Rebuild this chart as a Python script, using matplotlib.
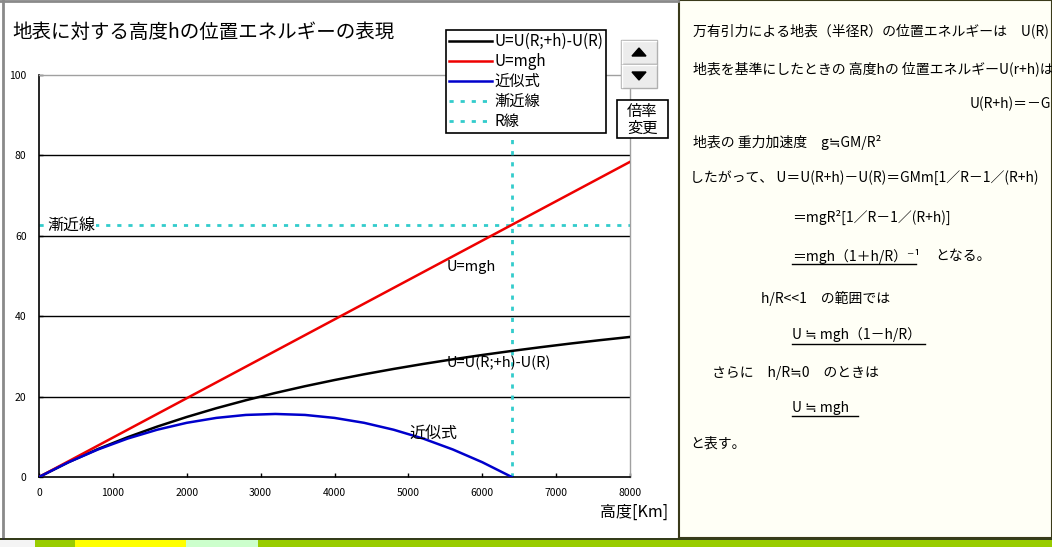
import matplotlib
matplotlib.use("Agg")
import matplotlib.pyplot as plt
from matplotlib.patches import Rectangle, Polygon
from matplotlib.lines import Line2D

plt.rcParams['font.family'] = ['Noto Sans CJK JP', 'DejaVu Sans']

# ---- data ----
height_km = [0, 400, 800, 1200, 1600, 2000, 2400, 2800, 3200, 3600, 4000,
             4400, 4800, 5200, 5600, 6000, 6400, 6800, 7200, 7600, 8000]
u_exact = [0, 3.69, 6.97, 9.90, 12.54, 14.93, 17.11, 19.09, 20.91, 22.58, 24.12,
           25.55, 26.88, 28.12, 29.27, 30.35, 31.36, 32.31, 33.21, 34.05, 34.84]
u_mgh = [0, 3.92, 7.84, 11.76, 15.68, 19.60, 23.52, 27.44, 31.36, 35.28, 39.20,
         43.12, 47.04, 50.96, 54.88, 58.80, 62.72, 66.64, 70.56, 74.48, 78.40]
height_approx = [0, 400, 800, 1200, 1600, 2000, 2400, 2800, 3200, 3600, 4000,
                 4400, 4800, 5200, 5600, 6000, 6400]
u_approx = [0, 3.68, 6.86, 9.56, 11.76, 13.48, 14.70, 15.44, 15.68, 15.44, 14.70,
            13.48, 11.76, 9.56, 6.86, 3.68, 0]
asym_x = [0, 8000]
asym_y = [62.72, 62.72]
rline_x = [6400, 6400]
rline_y = [0, 100]
x_ticks = [0, 1000, 2000, 3000, 4000, 5000, 6000, 7000, 8000]
y_ticks = [0, 20, 40, 60, 80, 100]
series_labels = ['U=U(R;+h)-U(R)', 'U=mgh', '近似式', '漸近線', 'R線']

W, H = 1052, 547
def fx(px):
    return px / W
def fy(py):
    return 1 - py / H

fig = plt.figure(figsize=(W / 100, H / 100), dpi=100)
fig.patch.set_facecolor('white')

# ---- frame / background decorations ----
fig.add_artist(Line2D([fx(3), fx(3)], [fy(0), fy(538)], color='#8a8a8a', lw=2))
fig.add_artist(Line2D([0, fx(678)], [fy(1), fy(1)], color='#8a8a8a', lw=2))
fig.add_artist(Rectangle((0, 0), 1, fy(538), facecolor='#99CC00', edgecolor='none'))
fig.add_artist(Rectangle((fx(75), 0), fx(186) - fx(75), fy(540), facecolor='#FFFF00', edgecolor='none'))
fig.add_artist(Rectangle((fx(186), 0), fx(258) - fx(186), fy(540), facecolor='#CCFFCC', edgecolor='none'))
fig.add_artist(Rectangle((0, 0), fx(35), fy(540), facecolor='#f4f4f4', edgecolor='none'))
fig.add_artist(Line2D([0, 1], [fy(538.5), fy(538.5)], color='#202020', lw=1.2))

# ---- chart axes ----
ax = fig.add_axes([fx(39), fy(477), fx(630) - fx(39), (477 - 75) / H])
ax.set_xlim(0, 8000)
ax.set_ylim(0, 100)
ax.set_facecolor('white')
for yv in y_ticks[1:-1]:
    ax.axhline(yv, color='black', lw=1, zorder=1)

l1, = ax.plot(height_km, u_exact, color='black', lw=1.8, zorder=3)
l2, = ax.plot(height_km, u_mgh, color='#EE0000', lw=1.8, zorder=3)
l3, = ax.plot(height_approx, u_approx, color='#0000CC', lw=1.8, zorder=3)
l4, = ax.plot(asym_x, asym_y, color='#33CCCC', lw=2, linestyle=(0, (1.5, 2.5)), zorder=2)
l5, = ax.plot(rline_x, rline_y, color='#33CCCC', lw=2, linestyle=(0, (1.5, 2.5)), zorder=2)

ax.set_xticks(x_ticks)
ax.set_yticks(y_ticks)
ax.set_xticklabels([str(v) for v in x_ticks])
ax.set_yticklabels([str(v) for v in y_ticks])
ax.tick_params(axis='both', labelsize=7.5, direction='in', length=3, width=1, colors='black')
ax.tick_params(axis='x', pad=8)
ax.tick_params(axis='y', pad=9)
for s in ['top', 'right']:
    ax.spines[s].set_color('#a0a0a0')
    ax.spines[s].set_linewidth(1)
for s in ['left', 'bottom']:
    ax.spines[s].set_color('black')
    ax.spines[s].set_linewidth(1.2)

# in-plot labels
ax.text(110, 62.72, '漸近線', fontsize=11.5, va='center', ha='left',
        bbox=dict(facecolor='white', edgecolor='none', pad=0.5), zorder=4)
ax.text(5520, 52.3, 'U=mgh', fontsize=10.5, va='center', ha='left', zorder=4)
ax.text(5520, 28.4, 'U=U(R;+h)-U(R)', fontsize=10.5, va='center', ha='left', zorder=4)
ax.text(5020, 10.8, '近似式', fontsize=11.5, va='center', ha='left', zorder=4)

# title and axis label
fig.text(fx(12), fy(32), '地表に対する高度hの位置エネルギーの表現', fontsize=14, va='center', ha='left')
fig.text(fx(668), fy(512), '高度[Km]', fontsize=11.5, va='center', ha='right')

# legend
leg = fig.legend([l1, l2, l3, l4, l5], series_labels, loc='upper left',
                 bbox_to_anchor=(fx(446), fy(30)), fontsize=11, frameon=True,
                 fancybox=False, edgecolor='black', facecolor='white', framealpha=1,
                 handlelength=2.8, handletextpad=0.15, labelspacing=0.2,
                 borderpad=0.2, borderaxespad=0)
leg.get_frame().set_linewidth(1.2)

# spin buttons
def button(x0, y0, x1, y1, up):
    fig.add_artist(Rectangle((fx(x0), fy(y1)), fx(x1) - fx(x0), fy(y0) - fy(y1),
                             facecolor='#ECECEC', edgecolor='#b0b0b0', lw=1))
    fig.add_artist(Line2D([fx(x0 + 1), fx(x1 - 1)], [fy(y0 + 1), fy(y0 + 1)], color='white', lw=1))
    fig.add_artist(Line2D([fx(x0 + 1), fx(x0 + 1)], [fy(y0 + 1), fy(y1 - 1)], color='white', lw=1))
    cx, cy = (x0 + x1) / 2, (y0 + y1) / 2
    if up:
        pts = [(fx(cx - 7), fy(cy + 4)), (fx(cx + 7), fy(cy + 4)), (fx(cx), fy(cy - 4))]
    else:
        pts = [(fx(cx - 7), fy(cy - 4)), (fx(cx + 7), fy(cy - 4)), (fx(cx), fy(cy + 4))]
    fig.add_artist(Polygon(pts, closed=True, facecolor='black', edgecolor='black'))

button(621, 40, 657, 64, True)
button(621, 64, 657, 88, False)
fig.add_artist(Rectangle((fx(617), fy(138)), fx(668) - fx(617), fy(100) - fy(138),
                         facecolor='white', edgecolor='black', lw=1.2))
fig.text(fx(642.5), fy(111), '倍率', fontsize=11, ha='center', va='center')
fig.text(fx(642.5), fy(128), '変更', fontsize=11, ha='center', va='center')

# ---- right text panel ----
tp = fig.add_axes([fx(679), fy(538), fx(1052) - fx(679), 538 / H])
tp.set_xlim(679, 1052)
tp.set_ylim(538, 0)
tp.set_facecolor('#FFFFF6')
tp.set_xticks([])
tp.set_yticks([])
for s in tp.spines.values():
    s.set_color('#3a3a1a')
    s.set_linewidth(1.5)

panel_lines = [
    (693, 31, '万有引力による地表（半径R）の位置エネルギーは　U(R)'),
    (693, 69, '地表を基準にしたときの 高度hの 位置エネルギーU(r+h)は'),
    (970, 104, 'U(R+h)＝－G'),
    (693, 143, '地表の 重力加速度　g≒GM/R²'),
    (690, 178, 'したがって、 U＝U(R+h)－U(R)＝GMm[1／R－1／(R+h)'),
    (792, 217, '＝mgR²[1／R－1／(R+h)]'),
    (792, 256, '＝mgh（1＋h/R）⁻¹'),
    (935, 256, 'となる。'),
    (761, 298, 'h/R<<1　の範囲では'),
    (792, 335, 'U ≒ mgh（1－h/R）'),
    (712, 373, 'さらに　h/R≒0　のときは'),
    (792, 408, 'U ≒ mgh'),
    (690, 444, 'と表す。'),
]
for x, y, s in panel_lines:
    tp.text(x, y, s, fontsize=10, ha='left', va='center', clip_on=True)

# underlines
for x0, x1, y in [(792, 916, 264), (792, 925, 344), (792, 858, 416)]:
    tp.plot([x0, x1], [y, y], color='black', lw=1, clip_on=True)

fig.savefig('out.png', dpi=100)
